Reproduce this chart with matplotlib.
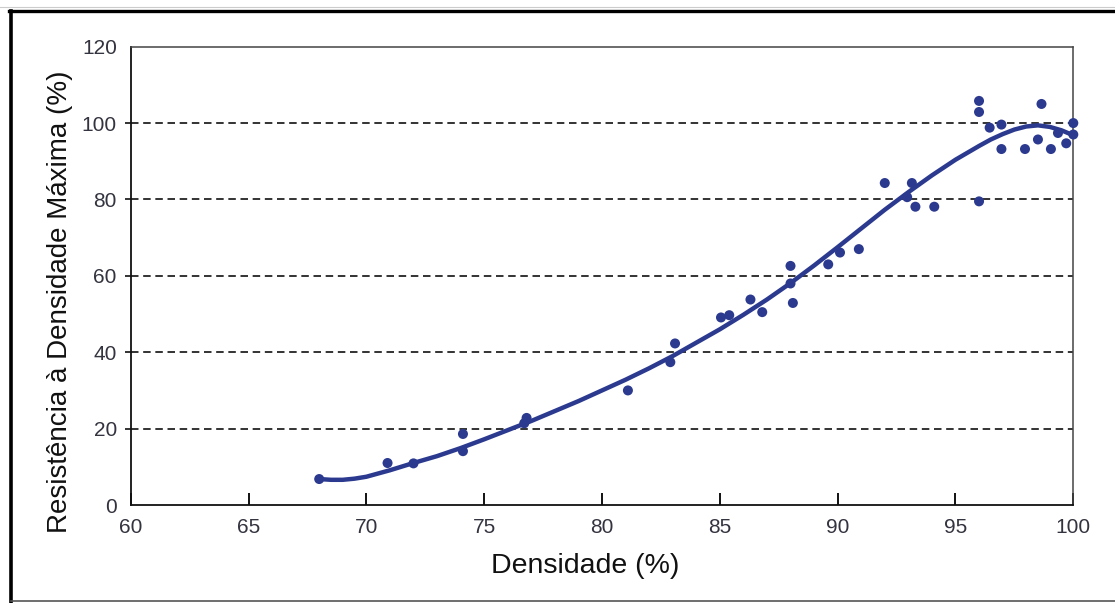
import matplotlib
matplotlib.use('Agg')
import matplotlib.pyplot as plt
from matplotlib.lines import Line2D

plt.rcParams['font.family'] = ['Liberation Sans', 'DejaVu Sans']

# measured points: density (%) vs strength relative to max density (%)
densidade = [68.0, 70.9, 72.0, 74.1, 74.1, 76.8, 76.7, 81.1, 82.9, 83.1,
             85.05, 85.4, 86.3, 86.8, 88.0, 88.0, 88.1, 89.6, 90.1, 90.9,
             92.0, 92.95, 93.15, 93.3, 94.1, 96.0, 96.0, 96.0, 96.45, 96.95,
             96.95, 97.95, 98.5, 98.65, 99.05, 99.35, 99.7, 100.0, 100.0]
resistencia = [6.8, 11.0, 10.9, 18.6, 14.1, 22.8, 21.4, 30.0, 37.4, 42.3,
               49.1, 49.7, 53.8, 50.5, 62.6, 58.0, 52.9, 63.0, 66.1, 67.0,
               84.3, 80.6, 84.3, 78.1, 78.1, 79.5, 105.8, 102.9, 98.8, 99.6,
               93.2, 93.2, 95.7, 105.0, 93.2, 97.4, 94.7, 100.0, 97.0]

# fitted trend curve
curva_x = [68, 68.5, 69, 69.5, 70, 71, 72, 73, 74, 75, 76, 77, 78, 79, 80,
           81, 82, 83, 84, 85, 86, 87, 88, 89, 90, 91, 92, 93, 94, 95, 96,
           96.5, 97, 97.5, 98, 98.5, 99, 99.5, 100]
curva_y = [6.8, 6.6, 6.6, 6.9, 7.4, 9.1, 11.0, 12.8, 14.9, 17.2, 19.6, 22.0,
           24.6, 27.2, 30.0, 32.8, 35.8, 39.0, 42.5, 46.0, 49.8, 53.8, 58.1,
           62.7, 67.5, 72.4, 77.3, 81.9, 86.3, 90.4, 94.0, 95.7, 97.1, 98.3,
           99.1, 99.4, 99.0, 98.1, 96.8]

x_ticks = [60, 65, 70, 75, 80, 85, 90, 95, 100]
y_ticks = [0, 20, 40, 60, 80, 100, 120]
grid_y = [20, 40, 60, 80, 100]

azul = '#2b3a8f'

fig = plt.figure(figsize=(11.15, 6.03), dpi=100)
ax = fig.add_axes([0.1172, 0.1625, 0.8454, 0.7601])

ax.plot(curva_x, curva_y, color=azul, lw=3.2, solid_capstyle='round',
        solid_joinstyle='round', zorder=3)
ax.scatter(densidade, resistencia, s=52, color=azul, edgecolors='none',
           zorder=4, clip_on=False)

ax.set_xlim(60, 100)
ax.set_ylim(0, 120)
ax.set_xticks(x_ticks)
ax.set_yticks(y_ticks)
# minor ticks sit on the majors, keep them anyway (they carry the grid)
ax.yaxis.remove_overlapping_locs = False
ax.set_yticks(grid_y, minor=True)
ax.grid(which='minor', axis='y', color='#111111', linestyle=(0, (4.5, 2.8)),
        linewidth=1.2)
ax.grid(which='major', visible=False)

ax.tick_params(axis='x', direction='in', length=9, width=1.4, pad=9,
               labelsize=15, labelcolor='#33343f', color='#111111')
ax.tick_params(axis='y', which='major', length=0, pad=10,
               labelsize=15, labelcolor='#33343f')
ax.tick_params(axis='y', which='minor', direction='out', length=4.5, width=1.2,
               color='#111111')

for s in ['left', 'bottom']:
    ax.spines[s].set_linewidth(1.3)
    ax.spines[s].set_color('#111111')
for s in ['top', 'right']:
    ax.spines[s].set_linewidth(1.1)
    ax.spines[s].set_color('#444444')

fig.text(585 / 1115, 1 - 566 / 603, 'Densidade (%)', fontsize=20.5,
         ha='center', va='center', color='#111111')
fig.text(60 / 1115, 1 - 302 / 603, 'Resistência à Densidade Máxima (%)',
         fontsize=20, rotation=90, ha='center', va='center', color='#111111')

# page frame around the figure
fig.add_artist(Line2D([0.0103, 0.0103], [0.0, 0.982], transform=fig.transFigure,
                      color='black', lw=2.6))
fig.add_artist(Line2D([0.0085, 1.0], [0.982, 0.982], transform=fig.transFigure,
                      color='black', lw=2.4))
fig.add_artist(Line2D([0.0, 1.0], [0.989, 0.989], transform=fig.transFigure,
                      color='#cccccc', lw=0.8))
fig.add_artist(Line2D([0.0103, 1.0], [0.0025, 0.0025], transform=fig.transFigure,
                      color='#555555', lw=1.2))

fig.savefig('out.png', dpi=100)
